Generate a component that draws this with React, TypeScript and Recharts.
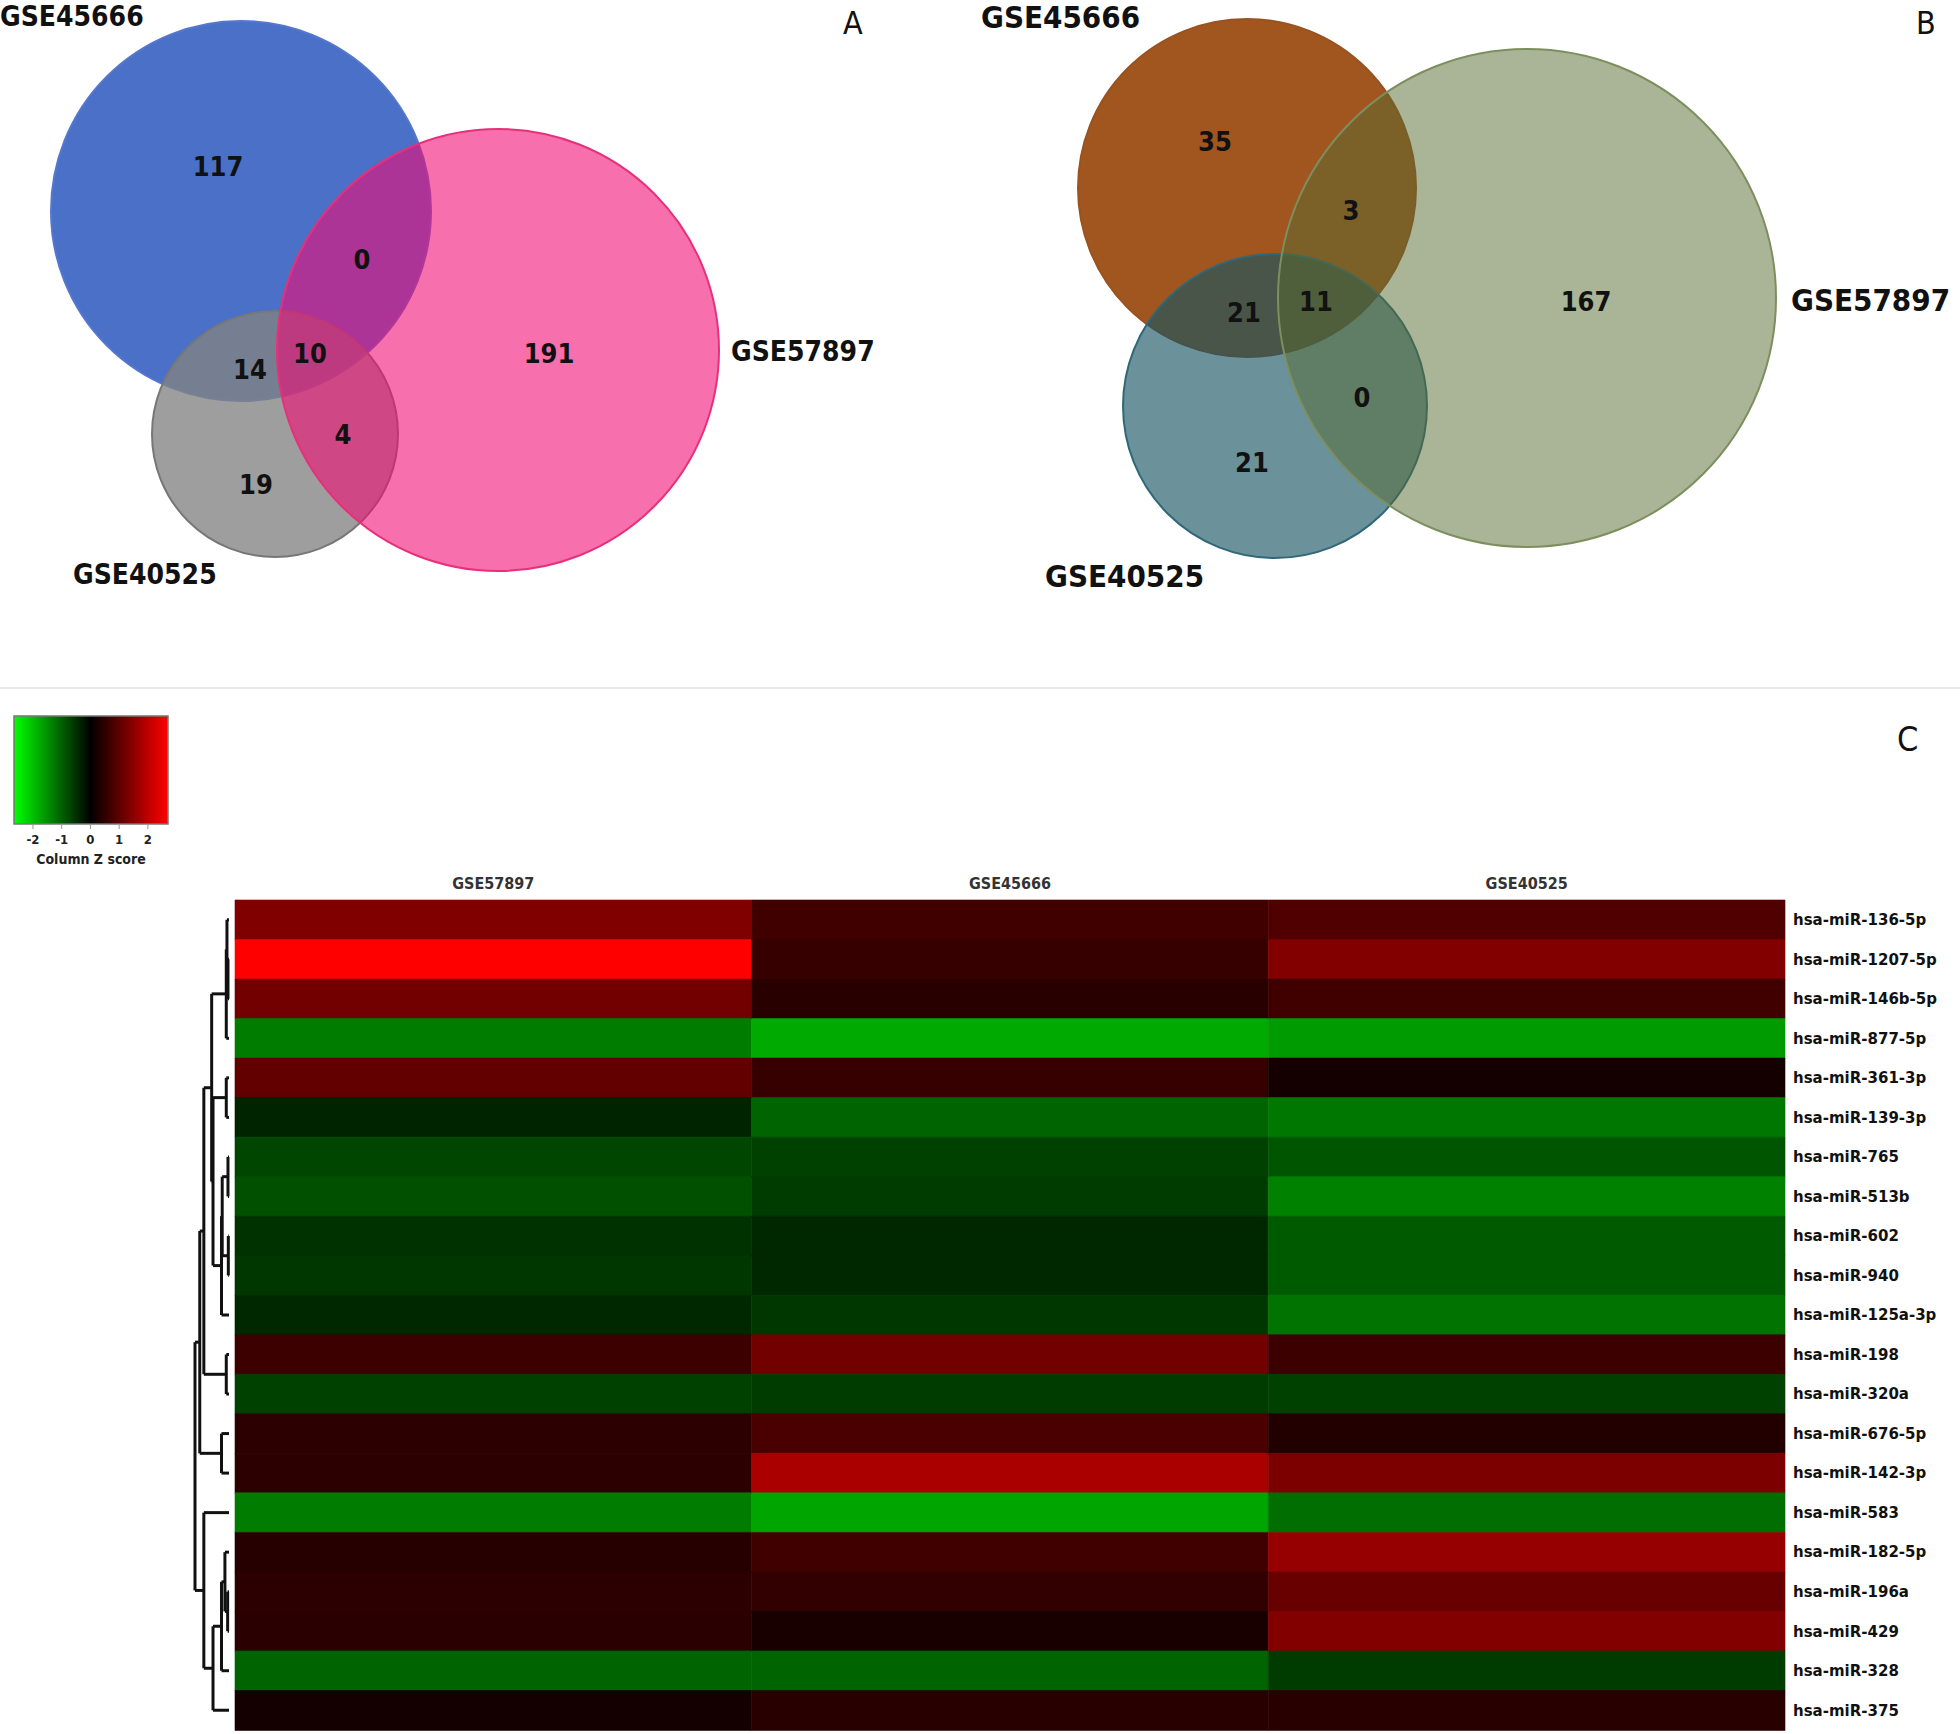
import React from "react";
import {
  ScatterChart,
  Scatter,
  XAxis,
  YAxis,
  BarChart,
  Bar,
  Cell,
  ReferenceLine,
  ReferenceArea,
} from "recharts";

// ---- Venn data ----
// region order: only45666, 45666∩57897, 45666∩40525, all three, only57897, 57897∩40525, only40525
const vennNames = ["GSE45666", "GSE57897", "GSE40525"];
const vennACounts = [117, 0, 14, 10, 191, 4, 19];
const vennBCounts = [35, 3, 21, 11, 167, 0, 21];

// ---- heatmap data ----
const mirnas = [
  "hsa-miR-136-5p", "hsa-miR-1207-5p", "hsa-miR-146b-5p", "hsa-miR-877-5p",
  "hsa-miR-361-3p", "hsa-miR-139-3p", "hsa-miR-765", "hsa-miR-513b",
  "hsa-miR-602", "hsa-miR-940", "hsa-miR-125a-3p", "hsa-miR-198",
  "hsa-miR-320a", "hsa-miR-676-5p", "hsa-miR-142-3p", "hsa-miR-583",
  "hsa-miR-182-5p", "hsa-miR-196a", "hsa-miR-429", "hsa-miR-328", "hsa-miR-375",
];
const heatColumns = ["GSE57897", "GSE45666", "GSE40525"];
const zGSE57897 = [1.35, 2.68, 1.21, -1.32, 1.03, -0.37, -0.74, -0.84, -0.53, -0.58, -0.42, 0.63, -0.68, 0.47, 0.47, -1.32, 0.4, 0.47, 0.44, -1.05, 0.21];
const zGSE45666 = [0.68, 0.58, 0.42, -1.79, 0.58, -1.05, -0.68, -0.63, -0.42, -0.42, -0.58, 1.21, -0.63, 0.79, 1.79, -1.74, 0.68, 0.53, 0.26, -1.05, 0.42];
const zGSE40525 = [0.84, 1.37, 0.68, -1.63, 0.21, -1.26, -0.89, -1.37, -0.95, -0.95, -1.21, 0.63, -0.68, 0.37, 1.32, -1.16, 1.58, 1.11, 1.37, -0.63, 0.42];
const legendTicks = [-2, -1, 0, 1, 2];

// row clustering: [childA, childB, height]; ids >= 21 are earlier merges
const dendroMerges: [number, number, number][] = [
  [1, 2, 0.03], [0, 21, 0.06], [22, 3, 0.08], [4, 5, 0.08],
  [6, 7, 0.03], [8, 9, 0.02], [25, 26, 0.2], [27, 10, 0.22],
  [24, 28, 0.47], [23, 29, 0.51], [11, 12, 0.08], [30, 31, 0.74],
  [13, 14, 0.22], [32, 33, 0.86], [17, 18, 0.04], [16, 35, 0.12],
  [36, 19, 0.22], [37, 20, 0.47], [15, 38, 0.74], [34, 39, 1.0],
];

const condensed = "'DejaVu Sans Condensed', 'DejaVu Sans', sans-serif";

const zColor = (z: number) => {
  const v = Math.round(Math.min(255, Math.abs(z) * 95));
  return z >= 0 ? `rgb(${v},0,0)` : `rgb(0,${v},0)`;
};

type Circ = { x: number; y: number; r: number; fill: string; opacity: number; stroke: string };

const vennALayout = {
  circles: [
    { x: 241, y: 211, r: 190, fill: "rgb(74,112,200)", opacity: 1, stroke: "#5577cc" },
    { x: 275, y: 434, r: 123, fill: "rgb(131,131,131)", opacity: 0.78, stroke: "#777777" },
    { x: 498, y: 350, r: 221, fill: "rgb(241,10,115)", opacity: 0.59, stroke: "#e8307a" },
  ] as Circ[],
  counts: [[218, 166], [362, 259], [250, 369], [310, 353], [549, 353], [343, 434], [256, 484]],
  names: [[0, 16], [731, 351], [73, 574]],
  nameSize: 28,
};
const vennBLayout = {
  circles: [
    { x: 267, y: 188, r: 169, fill: "rgb(160,86,30)", opacity: 1, stroke: "#9a5220" },
    { x: 295, y: 406, r: 152, fill: "rgb(23,85,98)", opacity: 0.64, stroke: "#2f6878" },
    { x: 547, y: 298, r: 249, fill: "rgb(85,105,47)", opacity: 0.5, stroke: "#7d8f5e" },
  ] as Circ[],
  counts: [[235, 141], [371, 210], [264, 312], [336, 301], [606, 301], [382, 397], [272, 462]],
  names: [[1, 17], [811, 300], [65, 576]],
  nameSize: 31,
};

function Venn(props: { left: number; counts: number[]; layout: typeof vennALayout }) {
  const { left, counts, layout } = props;
  const width = 980;
  const height = 640;
  const countData = counts.map((v, i) => ({ x: layout.counts[i][0], y: layout.counts[i][1], v }));
  const nameData = vennNames.map((v, i) => ({ x: layout.names[i][0], y: layout.names[i][1], v }));
  return (
    <div style={{ position: "absolute", left, top: 0 }}>
      <ScatterChart width={width} height={height} margin={{ top: 0, right: 0, bottom: 0, left: 0 }}>
        <XAxis type="number" dataKey="x" domain={[0, width]} hide allowDataOverflow />
        <YAxis type="number" dataKey="y" domain={[0, height]} reversed hide allowDataOverflow />
        {layout.circles.map((c, i) => (
          <Scatter
            key={i}
            data={[c]}
            isAnimationActive={false}
            shape={(p: any) => (
              <circle
                cx={p.cx}
                cy={p.cy}
                r={p.payload.r}
                fill={p.payload.fill}
                fillOpacity={p.payload.opacity}
                stroke={p.payload.stroke}
                strokeWidth={2}
              />
            )}
          />
        ))}
        <Scatter
          data={countData}
          isAnimationActive={false}
          shape={(p: any) => (
            <text
              x={p.cx}
              y={p.cy}
              textAnchor="middle"
              dominantBaseline="central"
              fontFamily={condensed}
              fontWeight="bold"
              fontSize={27}
              fill="#111"
            >
              {p.payload.v}
            </text>
          )}
        />
        <Scatter
          data={nameData}
          isAnimationActive={false}
          shape={(p: any) => (
            <text
              x={p.cx}
              y={p.cy}
              textAnchor="start"
              dominantBaseline="central"
              fontFamily={condensed}
              fontWeight="bold"
              fontSize={layout.nameSize}
              fill="#111"
            >
              {p.payload.v}
            </text>
          )}
        />
      </ScatterChart>
    </div>
  );
}

const App: React.FC = () => {
  const zByColumn = [zGSE57897, zGSE45666, zGSE40525];
  const heatRows = mirnas.map((name) => ({ name, GSE57897: 1, GSE45666: 1, GSE40525: 1 }));

  // dendrogram segments
  const nodes: { y: number; h: number }[] = mirnas.map((_, i) => ({ y: i, h: 0 }));
  const segs: { x: number; y: number }[][] = [];
  dendroMerges.forEach(([a, b, h]) => {
    const A = nodes[a];
    const B = nodes[b];
    segs.push([{ x: A.h, y: A.y }, { x: h, y: A.y }]);
    segs.push([{ x: B.h, y: B.y }, { x: h, y: B.y }]);
    segs.push([{ x: h, y: A.y }, { x: h, y: B.y }]);
    nodes.push({ y: (A.y + B.y) / 2, h });
  });
  const leaves = mirnas.map((_, i) => ({ x: 0, y: i }));

  const zMin = -2.66;
  const zMax = 2.7;
  const zeroOffset = (0 - zMin) / (zMax - zMin);
  const keyPoints = legendTicks.map((t) => ({ x: t, y: 0.5 }));

  return (
    <div style={{ position: "absolute", left: 0, top: 0, width: 1960, height: 1734, background: "#fff" }}>
      <Venn left={0} counts={vennACounts} layout={vennALayout} />
      <Venn left={980} counts={vennBCounts} layout={vennBLayout} />
      <div style={{ position: "absolute", left: 843, top: 4, fontFamily: condensed, fontSize: 32, color: "#111" }}>A</div>
      <div style={{ position: "absolute", left: 1916, top: 4, fontFamily: condensed, fontSize: 32, color: "#111" }}>B</div>
      <div style={{ position: "absolute", left: 0, top: 687, width: 1960, height: 2, background: "#e8e8e8" }} />
      <div style={{ position: "absolute", left: 1897, top: 719, fontFamily: condensed, fontSize: 34, color: "#111" }}>C</div>

      {/* colour key */}
      <div style={{ position: "absolute", left: 0, top: 700 }}>
        <ScatterChart width={200} height={170} margin={{ top: 16, left: 14, right: 32, bottom: 0 }}>
          <defs>
            <linearGradient id="zgrad" x1="0" y1="0" x2="1" y2="0">
              <stop offset="0" stopColor="rgb(0,255,0)" />
              <stop offset={zeroOffset} stopColor="#000" />
              <stop offset="1" stopColor="rgb(255,0,0)" />
            </linearGradient>
          </defs>
          <XAxis
            type="number"
            dataKey="x"
            domain={[zMin, zMax]}
            ticks={legendTicks}
            height={46}
            axisLine={false}
            tickSize={5}
            tickMargin={6}
            tickLine={{ stroke: "#999" }}
            tick={{ fontSize: 13, fontWeight: "bold", fill: "#222", fontFamily: condensed }}
            label={{ value: "Column Z score", position: "insideBottom", offset: 6, fontSize: 14, fontWeight: "bold", fill: "#222", fontFamily: condensed }}
          />
          <YAxis type="number" dataKey="y" domain={[0, 1]} hide />
          <ReferenceArea x1={zMin} x2={zMax} y1={0} y2={1} fill="url(#zgrad)" fillOpacity={1} stroke="#777" strokeWidth={1.5} ifOverflow="visible" />
          <Scatter data={keyPoints} isAnimationActive={false} shape={() => <g />} />
        </ScatterChart>
      </div>

      {/* heatmap */}
      <div style={{ position: "absolute", left: 0, top: 860 }}>
        <BarChart
          width={1960}
          height={874}
          data={heatRows}
          layout="vertical"
          margin={{ top: 0, right: 0, left: 235, bottom: 4 }}
          barCategoryGap={0}
        >
          <XAxis
            type="number"
            orientation="top"
            domain={[0, 3]}
            ticks={[0.5, 1.5, 2.5]}
            tickFormatter={(v: number) => heatColumns[Math.floor(v)]}
            axisLine={false}
            tickLine={false}
            tickMargin={5}
            height={40}
            tick={{ fontSize: 16, fontWeight: "bold", fill: "#333", fontFamily: condensed }}
          />
          <YAxis
            type="category"
            dataKey="name"
            orientation="right"
            width={175}
            interval={0}
            axisLine={false}
            tickLine={false}
            tickMargin={2}
            tick={{ fontSize: 15, fontWeight: "bold", fill: "#111", fontFamily: "'DejaVu Sans', sans-serif" }}
          />
          {heatColumns.map((col, ci) => (
            <Bar key={col} dataKey={col} stackId="h" isAnimationActive={false}>
              {heatRows.map((_, ri) => (
                <Cell key={ri} fill={zColor(zByColumn[ci][ri])} stroke={zColor(zByColumn[ci][ri])} strokeWidth={0.6} />
              ))}
            </Bar>
          ))}
        </BarChart>
      </div>

      {/* row dendrogram */}
      <div style={{ position: "absolute", left: 0, top: 860 }}>
        <ScatterChart width={240} height={874} margin={{ top: 40, right: 11, left: 195, bottom: 4 }}>
          <XAxis type="number" dataKey="x" domain={[0, 1]} reversed hide />
          <YAxis type="number" dataKey="y" domain={[-0.5, mirnas.length - 0.5]} reversed hide />
          <Scatter data={leaves} isAnimationActive={false} shape={() => <g />} />
          {segs.map((s, i) => (
            <ReferenceLine key={i} segment={s} stroke="#111" strokeWidth={3} ifOverflow="visible" />
          ))}
        </ScatterChart>
      </div>
    </div>
  );
};

export default App;
